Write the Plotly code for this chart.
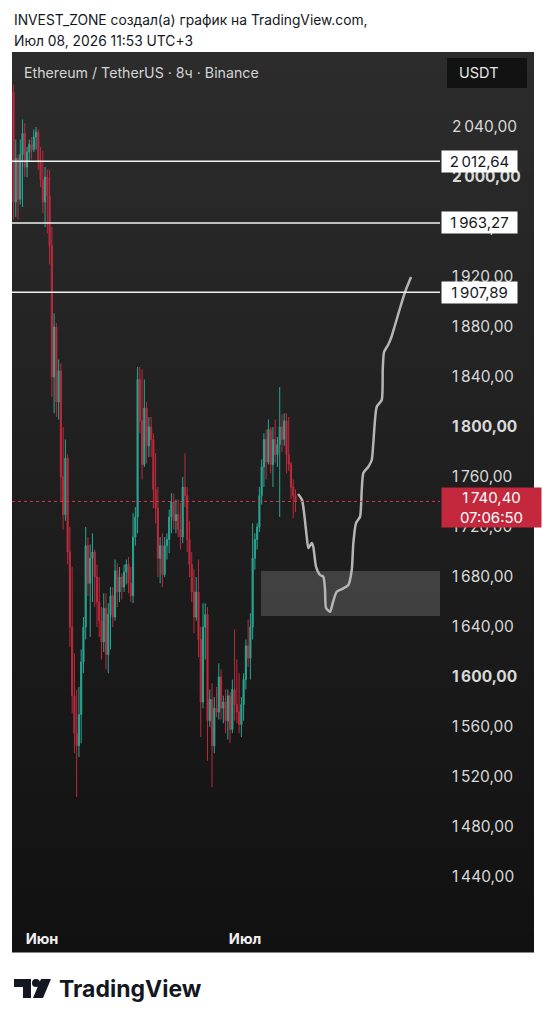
import pandas as pd
import plotly.graph_objects as go

# ---------------- data ----------------
start_time = "2026-05-27 19:00"
n_candles = 126
opens = [2068,1980,2015,1982,2018,2035,2008,2020,2026,2022,2032,2036,2012,1998,1980,2000,1985,1945,1840,1880,
         1820,1845,1760,1730,1775,1700,1640,1585,1555,1545,1570,1612,1640,1705,1675,1695,1700,1680,1660,1645,
         1628,1655,1618,1650,1665,1648,1685,1668,1680,1672,1684,1690,1675,1665,1712,1728,1838,1805,1770,1815,
         1785,1800,1790,1750,1735,1695,1705,1682,1705,1710,1728,1740,1725,1730,1718,1712,1752,1745,1710,1690,
         1668,1648,1668,1630,1580,1640,1650,1565,1582,1545,1575,1572,1600,1575,1580,1565,1585,1558,1590,1578,
         1572,1562,1578,1598,1625,1615,1640,1695,1710,1720,1745,1768,1790,1772,1798,1770,1790,1778,1786,1800,
         1790,1805,1778,1770,1752,1745]
highs = [2074,2030,2018,2030,2046,2043,2024,2030,2032,2038,2040,2038,2024,2021,2008,2006,2006,1960,1891,1883,
         1854,1851,1800,1790,1778,1720,1688,1619,1590,1592,1622,1648,1720,1712,1706,1715,1702,1690,1680,1656,
         1667,1667,1659,1672,1672,1694,1691,1688,1683,1690,1694,1696,1688,1731,1736,1848,1848,1846,1838,1820,
         1808,1808,1795,1779,1752,1712,1715,1712,1715,1734,1747,1747,1742,1742,1739,1760,1779,1752,1725,1700,
         1686,1680,1694,1640,1659,1659,1656,1590,1595,1584,1592,1611,1606,1585,1590,1590,1588,1598,1638,1614,
         1603,1584,1603,1630,1646,1651,1723,1715,1723,1752,1774,1795,1798,1806,1800,1800,1806,1792,1832,1810,
         1811,1811,1808,1772,1758,1750]
lows = [1966,1968,1966,1978,1976,2000,2000,2012,2014,2020,2022,2006,1992,1971,1960,1955,1930,1824,1811,1808,
        1806,1740,1718,1725,1690,1624,1571,1539,1504,1536,1547,1603,1630,1665,1632,1660,1656,1640,1632,1614,
        1620,1606,1603,1622,1640,1645,1656,1660,1662,1668,1674,1667,1660,1659,1705,1715,1795,1758,1768,1771,
        1776,1776,1735,1723,1680,1675,1672,1680,1694,1699,1715,1718,1715,1712,1702,1707,1736,1700,1680,1660,
        1635,1645,1616,1552,1575,1614,1533,1560,1512,1539,1568,1566,1566,1563,1555,1550,1547,1555,1565,1563,
        1555,1552,1565,1590,1608,1598,1630,1686,1702,1716,1738,1752,1758,1770,1763,1752,1771,1768,1728,1780,
        1785,1763,1765,1742,1727,1732]
closes = [1980,2015,1982,2018,2035,2008,2020,2026,2022,2032,2036,2012,1998,1980,2000,1985,1945,1840,1880,1820,
          1845,1760,1730,1775,1700,1640,1585,1555,1545,1570,1612,1640,1705,1675,1695,1700,1680,1660,1645,1628,
          1655,1618,1650,1665,1648,1685,1668,1680,1672,1684,1690,1675,1665,1712,1728,1838,1805,1770,1815,1785,
          1800,1790,1750,1735,1695,1705,1682,1705,1710,1728,1740,1725,1730,1718,1712,1752,1745,1710,1690,1668,
          1648,1668,1630,1580,1640,1650,1565,1582,1545,1575,1572,1600,1575,1580,1565,1585,1558,1590,1578,1572,
          1562,1578,1598,1625,1615,1640,1695,1710,1720,1745,1768,1790,1772,1798,1770,1790,1778,1786,1800,1790,
          1805,1778,1770,1752,1745,1740.4]

# hand-drawn projection path
path_times = ["2026-07-08 19:58","2026-07-09 10:09","2026-07-10 02:50","2026-07-10 08:31","2026-07-10 20:34",
              "2026-07-11 02:14","2026-07-11 11:48","2026-07-12 02:00","2026-07-12 13:42","2026-07-12 19:44",
              "2026-07-12 23:17","2026-07-13 13:28","2026-07-13 23:02","2026-07-14 13:13","2026-07-15 12:37",
              "2026-07-16 06:22","2026-07-16 18:26","2026-07-17 00:06","2026-07-17 09:40","2026-07-17 23:51",
              "2026-07-18 05:53","2026-07-18 11:34","2026-07-19 05:18","2026-07-19 17:21","2026-07-19 23:02",
              "2026-07-20 11:05","2026-07-21 04:49","2026-07-21 08:22","2026-07-21 12:59","2026-07-22 03:10",
              "2026-07-22 13:49","2026-07-23 04:00","2026-07-23 21:45","2026-07-24 15:29","2026-07-25 12:46"]
path_prices = [1746.4,1741.6,1712.2,1703.2,1707.2,1704.0,1688.2,1681.6,1680.2,1669.6,
               1655.2,1652.2,1659.2,1668.2,1670.9,1673.6,1685.6,1707.2,1723.2,1728.2,
               1749.6,1763.2,1768.2,1773.6,1787.2,1816.2,1821.6,1845.6,1860.0,1865.6,
               1871.2,1881.6,1895.2,1908.0,1920.0]

levels = [2012.64, 1963.27, 1907.89]
level_labels = ["2\u2009012,64", "1\u2009963,27", "1\u2009907,89"]
last_price = 1740.40
last_label = "1\u2009740,40<br>07:06:50"
zone_start = "2026-07-03 08:45"
zone_low, zone_high = 1648.8, 1684.8

ytick_vals = [2040, 2000, 1960, 1920, 1880, 1840, 1800, 1760, 1720, 1680, 1640, 1600, 1560, 1520, 1480, 1440]
ytick_text = ["2\u2009040,00", "<b>2\u2009000,00</b>", "1\u2009960,00", "1\u2009920,00", "1\u2009880,00",
              "1\u2009840,00", "<b>1\u2009800,00</b>", "1\u2009760,00", "1\u2009720,00", "1\u2009680,00",
              "1\u2009640,00", "<b>1\u2009600,00</b>", "1\u2009560,00", "1\u2009520,00", "1\u2009480,00",
              "1\u2009440,00"]
xtick_vals = ["2026-06-01", "2026-07-01"]
xtick_text = ["<b>Июн</b>", "<b>Июл</b>"]
x_range = ["2026-05-27 13:40", "2026-07-29 19:25"]
y_range = [1405.6, 2100]

times = pd.date_range(start_time, periods=n_candles, freq="8h")

# ---------------- layout geometry helpers ----------------
W, H = 546, 1024
ML, MR, MT, MB = 12, 106, 52, 104
PW, PH = W - ML - MR, H - MT - MB


def px(x):
    return (x - ML) / PW


def py(y):
    return (H - MB - y) / PH


FONT = "Inter, Roboto, sans-serif"

fig = go.Figure()

fig.add_trace(go.Candlestick(
    x=times, open=opens, high=highs, low=lows, close=closes,
    increasing=dict(line=dict(color="#2aa593", width=1), fillcolor="#2aa593"),
    decreasing=dict(line=dict(color="#bd2a3c", width=1), fillcolor="#bd2a3c"),
    whiskerwidth=0, hoverinfo="skip", showlegend=False,
))

fig.add_trace(go.Scatter(
    x=path_times, y=path_prices, mode="lines",
    line=dict(color="#b5b5b5", width=2.5, shape="spline", smoothing=0.6),
    hoverinfo="skip", showlegend=False,
))

shapes = []
# panel background gradient (bands)
n_b = 45
top_c, bot_c = (44, 44, 44), (17, 17, 17)
y_top, y_bot = 52, 952
for k in range(n_b):
    t = k / (n_b - 1)
    c = tuple(int(round(top_c[j] + (bot_c[j] - top_c[j]) * t)) for j in range(3))
    ya = y_top + (y_bot - y_top) * k / n_b
    yb = y_top + (y_bot - y_top) * (k + 1) / n_b + 0.6
    shapes.append(dict(type="rect", xref="paper", yref="paper", layer="below",
                       x0=px(12), x1=px(534), y0=py(yb), y1=py(ya),
                       fillcolor="rgb(%d,%d,%d)" % c, line=dict(width=0)))

# zone box
shapes.append(dict(type="rect", xref="x", yref="y", layer="below",
                   x0=zone_start, x1=x_range[1], y0=zone_low, y1=zone_high,
                   fillcolor="rgba(110,110,110,0.45)", line=dict(width=0)))
# horizontal levels
for lv in levels:
    shapes.append(dict(type="line", xref="paper", yref="y", x0=0, x1=1, y0=lv, y1=lv,
                       line=dict(color="#f2f2f2", width=1.5)))
# last price dotted line
shapes.append(dict(type="line", xref="paper", yref="y", x0=0, x1=1, y0=last_price, y1=last_price,
                   line=dict(color="#d8313f", width=1, dash="dot")))
# USDT box
shapes.append(dict(type="rect", xref="paper", yref="paper", x0=px(447), x1=px(527), y0=py(88), y1=py(58),
                   fillcolor="#121212", line=dict(width=0)))
# TradingView logo glyph
shapes.append(dict(type="path", xref="paper", yref="paper", fillcolor="#131722", line=dict(width=0),
                   path="M %f %f L %f %f L %f %f L %f %f L %f %f L %f %f Z" % (
                       px(14), py(979), px(31), py(979), px(31), py(998), px(23), py(998),
                       px(23), py(987), px(14), py(987))))
shapes.append(dict(type="circle", xref="paper", yref="paper", fillcolor="#131722", line=dict(width=0),
                   x0=px(32), x1=px(40), y0=py(987), y1=py(979)))
shapes.append(dict(type="path", xref="paper", yref="paper", fillcolor="#131722", line=dict(width=0),
                   path="M %f %f L %f %f L %f %f L %f %f Z" % (
                       px(41), py(979), px(51), py(979), px(43), py(998), px(33), py(998))))

annotations = []
# header text
annotations.append(dict(xref="paper", yref="paper", x=px(12), y=py(20), xanchor="left", yanchor="middle",
                        text="INVEST_ZONE создал(а) график на TradingView.com,", showarrow=False,
                        font=dict(family=FONT, size=13.8, color="#131722")))
annotations.append(dict(xref="paper", yref="paper", x=px(12), y=py(41), xanchor="left", yanchor="middle",
                        text="Июл 08, 2026 11:53 UTC+3", showarrow=False,
                        font=dict(family=FONT, size=13.8, color="#131722")))
annotations.append(dict(xref="paper", yref="paper", x=px(22), y=py(73), xanchor="left", yanchor="middle",
                        text="Ethereum / TetherUS · 8ч · Binance", showarrow=False,
                        font=dict(family=FONT, size=14.2, color="#d4d4d4")))
annotations.append(dict(xref="paper", yref="paper", x=px(457), y=py(73), xanchor="left", yanchor="middle",
                        text="USDT", showarrow=False,
                        font=dict(family=FONT, size=14.5, color="#e6e6e6")))
# level labels
for lv, lab in zip(levels, level_labels):
    annotations.append(dict(xref="paper", yref="y", x=1, y=lv, xanchor="left", yanchor="middle",
                            xshift=1, text=lab, showarrow=False, bgcolor="#ffffff", borderpad=2,
                            width=71, height=17, align="center",
                            font=dict(family=FONT, size=15, color="#131722")))
# last price label
annotations.append(dict(xref="paper", yref="y", x=1, y=last_price, xanchor="left", yanchor="middle",
                        xshift=1, yshift=-6, text=last_label, showarrow=False, bgcolor="#c4283c", borderpad=2,
                        width=95, height=35, align="center",
                        font=dict(family=FONT, size=15, color="#ffffff")))
# logo text
annotations.append(dict(xref="paper", yref="paper", x=px(57), y=py(989), xanchor="left", yanchor="middle",
                        text="<b>TradingView</b>", showarrow=False,
                        font=dict(family=FONT, size=23, color="#131722")))

fig.update_layout(
    width=W, height=H,
    margin=dict(l=ML, r=MR, t=MT, b=MB),
    paper_bgcolor="#ffffff", plot_bgcolor="rgba(0,0,0,0)",
    shapes=shapes, annotations=annotations,
    showlegend=False, hovermode=False,
    xaxis=dict(type="date", range=x_range, rangeslider=dict(visible=False),
               tickvals=xtick_vals, ticktext=xtick_text, showgrid=False, zeroline=False,
               showline=False, ticks="", ticklabelstandoff=8,
               tickfont=dict(family=FONT, size=14.5, color="#f0f0f0"), fixedrange=True),
    yaxis=dict(side="right", range=y_range, tickvals=ytick_vals, ticktext=ytick_text,
               showgrid=False, zeroline=False, showline=False, ticks="", ticklabelstandoff=11,
               tickfont=dict(family=FONT, size=15.5, color="#d9d9d9"), fixedrange=True),
)

fig.write_html("out.html", config={"displayModeBar": False},
               post_script="document.body.style.margin='0px';document.body.style.overflow='hidden';")
